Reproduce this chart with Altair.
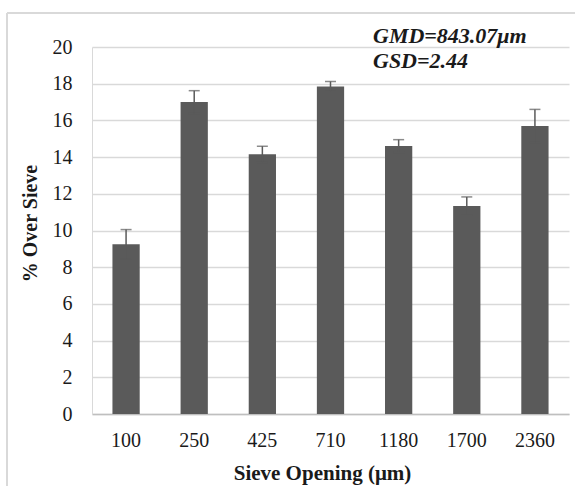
import altair as alt
import pandas as pd

openings = ["100", "250", "425", "710", "1180", "1700", "2360"]
pct_over = [9.25, 17.0, 14.15, 17.85, 14.6, 11.33, 15.7]
err = [0.8, 0.62, 0.44, 0.27, 0.35, 0.5, 0.9]
notes = ["GMD=843.07μm", "GSD=2.44"]

df = pd.DataFrame({"opening": openings, "pct": pct_over, "err": err})
df["lo"] = df["pct"] - df["err"]
df["hi"] = df["pct"] + df["err"]

FONT = "Liberation Serif"
GREY = "#5a5a5a"
W, H = 477, 367
PAD_B = 72

xaxis = alt.Axis(title="Sieve Opening (μm)", labelAngle=0, ticks=False,
                 labelPadding=16, titlePadding=12, titleFontSize=21,
                 titleX=230, domainColor="#bfbfbf", domainWidth=1.5)
xscale = alt.Scale(paddingInner=0.6, paddingOuter=0.3)
yaxis = alt.Axis(title="% Over Sieve", values=list(range(0, 21, 2)),
                 ticks=False, labelPadding=20, titlePadding=12,
                 titleY=176, labelOverlap=False,
                 domainColor="#d9d9d9", gridColor="#d9d9d9", gridWidth=1.5)
yscale = alt.Scale(domain=[0, 20])

def X():
    return alt.X("opening:N", sort=openings, scale=xscale, axis=xaxis)

bars = alt.Chart(df).mark_bar(color=GREY).encode(
    x=X(),
    y=alt.Y("pct:Q", scale=yscale, axis=yaxis),
)

rules = alt.Chart(df).mark_rule(color=GREY, strokeWidth=1.5).encode(
    x=X(),
    y=alt.Y("lo:Q", scale=yscale, axis=yaxis),
    y2="hi:Q",
)
caps_hi = alt.Chart(df).mark_tick(color=GREY, size=11, thickness=1.5, orient="horizontal").encode(
    x=X(),
    y=alt.Y("hi:Q", scale=yscale, axis=yaxis),
)
caps_lo = alt.Chart(df).mark_tick(color=GREY, size=11, thickness=1.5, orient="horizontal").encode(
    x=X(),
    y=alt.Y("lo:Q", scale=yscale, axis=yaxis),
)

note_df = pd.DataFrame({"t": notes, "row": [0, 1]})
text_style = dict(font=FONT, fontSize=22, fontWeight="bold", fontStyle="italic",
                  align="left", baseline="alphabetic", color="#1a1a1a")
text1 = alt.Chart(note_df).transform_filter("datum.row == 0").mark_text(**text_style).encode(
    x=alt.value(281), y=alt.value(-4), text="t:N")
text2 = alt.Chart(note_df).transform_filter("datum.row == 1").mark_text(**text_style).encode(
    x=alt.value(281), y=alt.value(21), text="t:N")

frame_v = alt.Chart(df).mark_rule(color="#d9d9d9", strokeWidth=1.5).encode(
    x=alt.value(-85), x2=alt.value(-85), y=alt.value(-34), y2=alt.value(H + PAD_B))
frame_h = alt.Chart(df).mark_rule(color="#d9d9d9", strokeWidth=1.5).encode(
    x=alt.value(-85), x2=alt.value(W + 6), y=alt.value(-34), y2=alt.value(-34))

chart = alt.layer(frame_v, frame_h, bars, rules, caps_hi, caps_lo, text1, text2).properties(
    width=W, height=H,
    autosize=alt.AutoSizeParams(type="none"),
    padding={"left": 92, "top": 47, "right": 6, "bottom": PAD_B},
).configure_view(stroke=None).configure_axis(
    labelFont=FONT, titleFont=FONT, labelFontSize=20, titleFontSize=20,
    labelColor="#1a1a1a", titleColor="#1a1a1a", titleFontWeight="bold",
).configure_axisX(grid=False)

chart.save("out.html", embed_options={"renderer": "svg", "actions": False})
